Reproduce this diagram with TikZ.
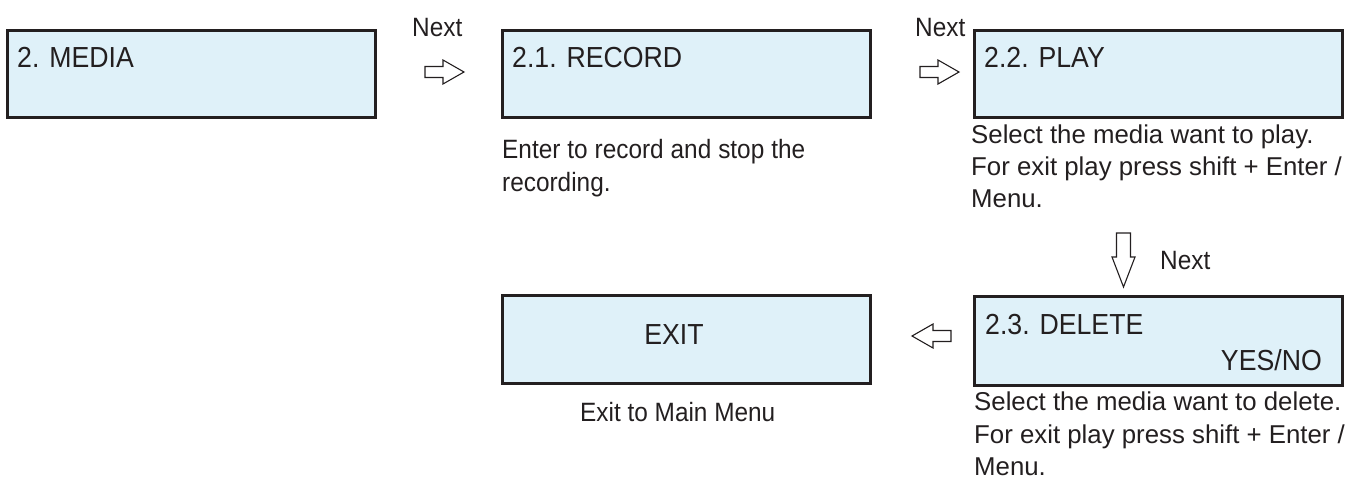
\documentclass[tikz,border=0pt]{standalone}
\usepackage{fontspec}
\setmainfont{Liberation Sans}[FakeStretch=0.92]
\newfontfamily\widefont{Liberation Sans}
\definecolor{ink}{HTML}{231F20}
\definecolor{lcd}{HTML}{DFF1F9}
\begin{document}
\begin{tikzpicture}[x=1pt,y=-1pt,
  lcdbox/.style={draw=ink,fill=lcd,line width=2.5pt,anchor=north west,inner sep=0pt,
    minimum width=368pt},
  lbl/.style={text=ink,inner sep=0pt,font=\fontsize{29}{34}\selectfont},
  desc/.style={text=ink,inner sep=0pt,font=\fontsize{26.5}{32}\selectfont,anchor=base west},
  wdesc/.style={desc,font=\widefont\fontsize{25.8}{32}\selectfont},
  barrow/.style={draw=ink,fill=white,line width=1.1pt,line join=miter}]
\useasboundingbox (0,0) rectangle (1352,493);

% boxes
\node[lcdbox,minimum height=87pt] (media) at (6,29) {};
\node[lcdbox,minimum height=87pt] (record) at (501,29) {};
\node[lcdbox,minimum height=87pt] (play) at (973,29) {};
\node[lcdbox,minimum height=88pt] (exit) at (501,294) {};
\node[lcdbox,minimum height=89pt] (delete) at (973,295) {};

% box labels
\node[lbl,anchor=base west] (tmedia) at (17,67) {2. MEDIA};
\node[lbl,anchor=base west] (trecord) at (512,67) {2.1. RECORD};
\node[lbl,anchor=base west] (tplay) at (984,67) {2.2. PLAY};
\node[lbl,anchor=base] (texit) at (674,344) {EXIT};
\node[lbl,anchor=base west] (tdelete) at (985,334) {2.3. DELETE};
\node[lbl,anchor=base east] (tyes) at (1322,370) {YES/NO};

% Next labels
\node[desc] (n1) at (412,36) {Next};
\node[desc] (n2) at (915,36) {Next};
\node[desc] (n3) at (1160,269) {Next};

% block arrows
\draw[barrow] (425,66.5) -- (443,66.5) -- (443,60) -- (464,72) -- (443,84) -- (443,77.5) -- (425,77.5) -- cycle;
\draw[barrow] (920,66.5) -- (938,66.5) -- (938,60) -- (959,72) -- (938,84) -- (938,77.5) -- (920,77.5) -- cycle;
\draw[barrow] (1116.5,233) -- (1130.5,233) -- (1130.5,257) -- (1135,257) -- (1123.5,287) -- (1112,257) -- (1116.5,257) -- cycle;
\draw[barrow] (951,330.5) -- (933,330.5) -- (933,324) -- (912,336) -- (933,348) -- (933,341.5) -- (951,341.5) -- cycle;

% descriptions
\node[desc] (d1a) at (502,158) {\makebox[303pt][s]{Enter to record and stop the}};
\node[desc] (d1b) at (502,191) {recording.};

\node[wdesc] (d2a) at (971,143) {Select the media want to play.};
\node[wdesc] (d2b) at (971,175) {For exit play press shift + Enter /};
\node[wdesc] (d2c) at (971,207) {Menu.};

\node[wdesc] (d3a) at (974,410) {Select the media want to delete.};
\node[wdesc] (d3b) at (974,443) {For exit play press shift + Enter /};
\node[wdesc] (d3c) at (974,475) {Menu.};

\node[desc] (d4) at (580,421) {Exit to Main Menu};
\end{tikzpicture}
\end{document}
